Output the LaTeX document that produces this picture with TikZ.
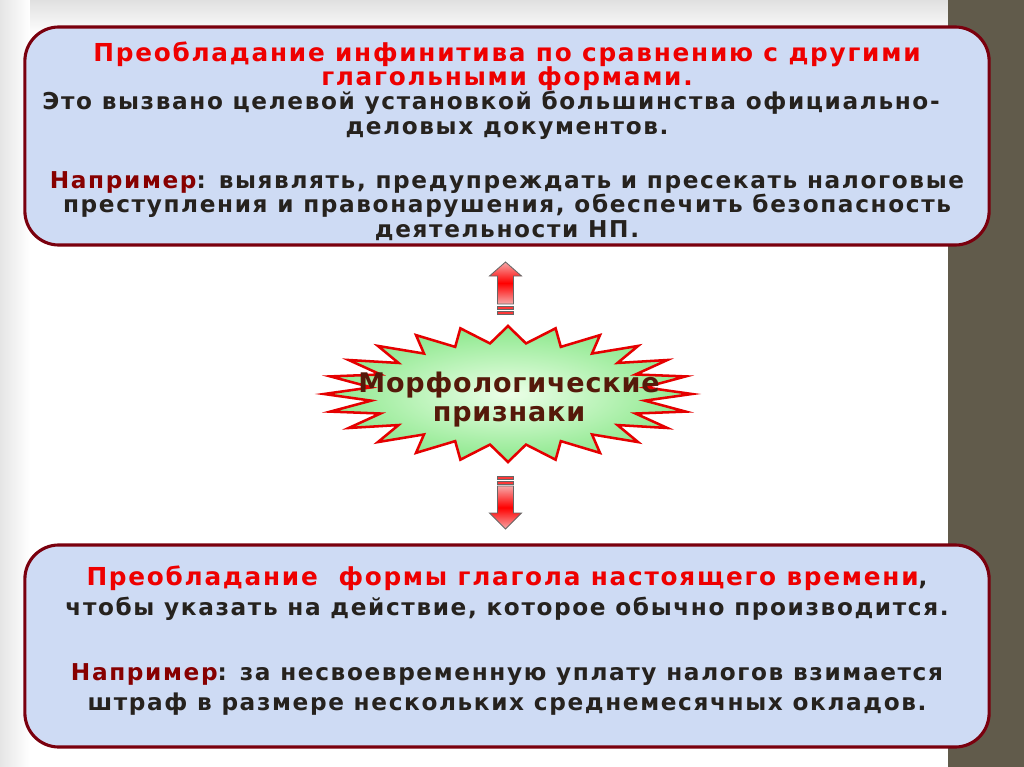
\documentclass[tikz,border=0pt]{standalone}
\usepackage{fontspec}
\newfontfamily\slidefont{DejaVu Sans}[LetterSpace=7]
\newfontfamily\starfont{DejaVu Sans}[LetterSpace=3]
\definecolor{framered}{RGB}{122,0,14}
\definecolor{panelfill}{RGB}{206,219,244}
\definecolor{titlered}{RGB}{238,0,0}
\definecolor{exred}{RGB}{135,0,0}
\definecolor{bodyink}{RGB}{38,34,30}
\definecolor{starink}{RGB}{85,25,10}
\definecolor{sidebar}{RGB}{97,91,75}
\definecolor{arrowpink}{RGB}{246,168,168}
\newcommand\redpart[1]{{\fontsize{17.6pt}{17.4pt}\selectfont\textcolor{titlered}{#1}}}
\tikzset{
  panel/.style={draw=framered, line width=2.2pt, fill=panelfill, rounded corners=0.85cm},
  paneltext/.style={align=center, text=bodyink, font=\slidefont\bfseries\fontsize{16.5pt}{#1}\selectfont},
  blockarrow/.style={draw=black!60, line width=0.6pt, top color=arrowpink, bottom color=arrowpink, middle color=red},
}
\begin{document}
\begin{tikzpicture}[x=0.025cm, y=-0.025cm]
		%%%%% START %%%%%
		\useasboundingbox (0,0) rectangle (1024,767);
		\fill[white] (0,0) rectangle (1024,767);
		\shade[left color=black!10, right color=white] (0,0) rectangle (30,767);
		\shade[top color=black!12, bottom color=white] (30,0) rectangle (948,35);
		\fill[sidebar] (948,0) rectangle (1024,767);
		
		\node[panel, minimum width=24.1cm, minimum height=5.45cm] (upper) at (507,136) {};
		\node[paneltext=17.4pt] (uppertext) at (507,141) {%
			\redpart{Преобладание инфинитива по сравнению с другими}\\
			\redpart{глагольными формами.}\\
			Это вызвано целевой установкой большинства \mbox{официально-\hspace{0.8cm}}\\
			деловых документов.\\[21pt]
			\textcolor{exred}{Например}: выявлять, предупреждать и пресекать налоговые\\
			преступления и правонарушения, обеспечить безопасность\\
			деятельности НП.};
		
		\node[panel, minimum width=24.1cm, minimum height=5.05cm] (lower) at (507,646) {};
		\node[paneltext=21.3pt] (lowertext) at (507,641) {%
			\redpart{Преобладание\ \ формы глагола настоящего времени},\\
			чтобы указать на действие, которое обычно производится.\\[25pt]
			\textcolor{exred}{Например}: за несвоевременную уплату налогов взимается\\
			штраф в размере нескольких среднемесячных окладов.};
		
		% star
		\shadedraw[draw=red!90!black, line width=1.8pt, inner color={rgb,255:red,236;green,255;blue,232}, outer color={rgb,255:red,140;green,232;blue,140}]
			(692,394) \foreach \a in {0,15,...,345} {
				-- ({508+138*cos(\a+7.5)},{394+51*sin(\a+7.5)})
				-- ({508+184*cos(\a+15)},{394+68*sin(\a+15)})
			} -- cycle;
		\node[align=center, text=starink, font=\starfont\bfseries\fontsize{19.2pt}{20.6pt}\selectfont] (morph) at (509,400) {Морфологические\\признаки};
		
		% up arrow
		\shadedraw[blockarrow] (505.5,262) -- (521.5,276) -- (513.5,276) -- (513.5,304) -- (497.5,304) -- (497.5,276) -- (489.5,276) -- cycle;
		\shadedraw[blockarrow] (497.5,306) rectangle (513.5,309);
		\shadedraw[blockarrow] (497.5,311) rectangle (513.5,314);
		
		% down arrow
		\shadedraw[blockarrow] (497.5,476) rectangle (513.5,479);
		\shadedraw[blockarrow] (497.5,481) rectangle (513.5,484);
		\shadedraw[blockarrow] (497.5,486) -- (513.5,486) -- (513.5,513) -- (521.5,513) -- (505.5,529) -- (489.5,513) -- (497.5,513) -- cycle;
		%%%%% END %%%%%
\end{tikzpicture}
\end{document}
